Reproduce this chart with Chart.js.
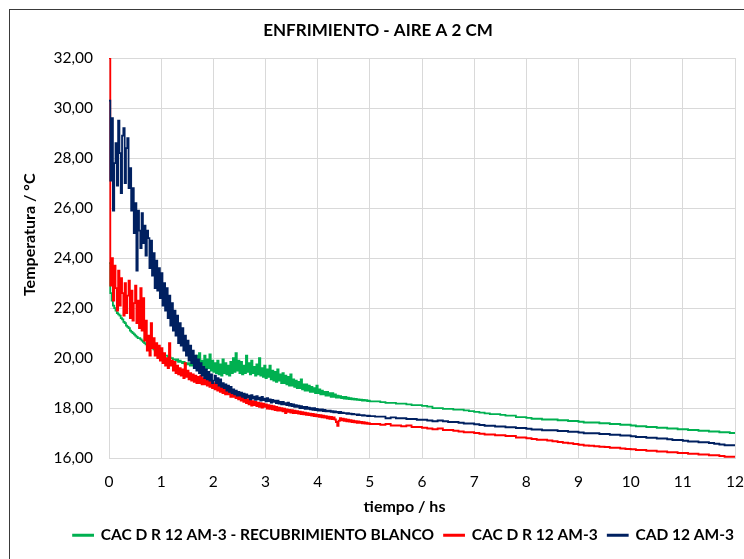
<!DOCTYPE html>
<html>
<head>
<meta charset="utf-8">
<script src="https://cdn.jsdelivr.net/npm/chart.js@4.4.0/dist/chart.umd.min.js"></script>
<style>
    html, body { margin: 0; padding: 0; background: #fff; overflow: hidden; }
    #wrap { position: relative; width: 744px; height: 559px; }
    #marco { position: absolute; left: 9px; top: 9px; width: 800px; height: 600px;
             border-left: 1px solid #3a3a3a; border-top: 1px solid #3a3a3a; }
    canvas { position: absolute; left: 0; top: 0; }
</style>
</head>
<body>
<div id="wrap">
    <div id="marco"></div>
    <canvas id="grafico" width="744" height="559"></canvas>
</div>
<script>
// Muestreo: cada 0.025 h hasta 5 h, luego cada 0.1 h hasta 12 h
const pasoFino = 0.025, muestrasFinas = 201;
const pasoGrueso = 0.1, inicioGrueso = 5.1, muestrasGruesas = 70;

// CAC D R 12 AM-3 - RECUBRIMIENTO BLANCO
const verde = [
    23.8, 22.6, 22.3, 22.1, 22.0, 21.9, 21.8, 21.75, 21.7, 21.6,
    21.55, 21.45, 21.4, 21.3, 21.25, 21.2, 21.1, 21.05, 21.0, 20.95,
    20.9, 20.85, 20.8, 20.8, 20.75, 20.7, 20.65, 20.6, 20.55, 20.5,
    20.5, 20.45, 20.4, 20.4, 20.35, 20.3, 20.3, 20.25, 20.25, 20.2,
    20.2, 20.15, 20.15, 20.1, 20.1, 20.05, 20.05, 20.0, 20.0, 19.95,
    19.95, 19.9, 19.95, 19.85, 19.9, 19.85, 19.8, 19.85, 19.75, 19.8,
    19.75, 19.8, 19.7, 19.75, 19.7, 19.8, 19.65, 20.1, 19.7, 20.2,
    19.65, 19.9, 19.6, 20.1, 19.55, 19.95, 19.6, 20.15, 19.5, 19.9,
    19.45, 19.8, 19.4, 19.9, 19.35, 19.75, 19.3, 19.95, 19.4, 19.8,
    19.35, 19.7, 19.3, 19.85, 19.4, 20.0, 19.45, 20.2, 19.5, 19.9, 19.4,
    19.85, 19.35, 19.7, 19.4, 20.1, 19.45, 19.8, 19.35, 19.9, 19.4,
    19.65, 19.3, 19.75, 19.35, 20.0, 19.3, 19.6, 19.25, 19.7, 19.2,
    19.55, 19.25, 19.7, 19.15, 19.5, 19.1, 19.45, 19.05, 19.55, 19.1,
    19.35, 19.0, 19.4, 19.0, 19.3, 18.95, 19.25, 18.9, 19.35, 18.9,
    19.15, 18.85, 19.1, 18.8, 19.05, 18.8, 19.15, 18.75, 18.95, 18.7,
    18.95, 18.7, 18.9, 18.65, 18.85, 18.65, 18.8, 18.6, 18.9, 18.6,
    18.75, 18.55, 18.7, 18.55, 18.65, 18.5, 18.65, 18.5, 18.6, 18.45,
    18.6, 18.45, 18.55, 18.42, 18.5, 18.42, 18.48, 18.4, 18.45, 18.38,
    18.45, 18.37, 18.42, 18.36, 18.4, 18.35, 18.38, 18.34, 18.37, 18.33,
    18.35, 18.32, 18.34, 18.3, 18.33, 18.3, 18.32, 18.28, 18.3, 18.27,
    // desde 5.1 h
    18.27, 18.24, 18.21, 18.21, 18.18, 18.18, 18.15, 18.12, 18.12, 18.09,
    18.06, 18.0, 18.0, 17.97, 17.97, 17.94, 17.94, 17.91, 17.88, 17.85,
    17.82, 17.79, 17.76, 17.76, 17.73, 17.7, 17.7, 17.64, 17.64, 17.61,
    17.58, 17.58, 17.55, 17.55, 17.55, 17.52, 17.52, 17.49, 17.49, 17.46,
    17.43, 17.43, 17.43, 17.4, 17.4, 17.37, 17.37, 17.34, 17.34, 17.31,
    17.28, 17.28, 17.25, 17.25, 17.22, 17.22, 17.19, 17.19, 17.16, 17.16,
    17.13, 17.13, 17.1, 17.1, 17.07, 17.07, 17.04, 17.04, 17.01, 17.01
];

// CAC D R 12 AM-3
const rojo = [
    32.0, 22.9, 24.0, 22.3, 23.7, 22.8, 21.9, 23.5, 22.1, 23.2,
    22.6, 21.7, 23.0, 21.8, 22.5, 23.1, 21.6, 22.7, 21.5, 22.2,
    22.9, 21.4, 22.3, 21.2, 22.8, 21.1, 22.4, 20.7, 21.5, 20.3,
    20.9, 20.1, 21.4, 20.4, 20.8, 20.1, 20.6, 20.0, 20.5, 19.9,
    20.4, 19.8, 20.2, 19.7, 20.0, 19.6, 20.6, 19.7, 19.9, 19.5,
    19.85, 19.4, 19.7, 19.35, 19.6, 19.3, 19.55, 19.2, 19.8, 19.25,
    19.5, 19.15, 19.4, 19.1, 19.35, 19.05, 19.3, 19.0, 19.25, 19.0,
    19.3, 18.95, 19.2, 18.95, 19.15, 18.9, 19.1, 18.85, 19.05, 18.8,
    19.0, 18.75, 18.95, 18.7, 18.9, 18.65, 18.85, 18.6, 18.8, 18.55,
    18.75, 18.55, 18.7, 18.45, 18.65, 18.45, 18.6, 18.4, 18.55, 18.35, 18.5,
    18.3, 18.45, 18.25, 18.4, 18.2, 18.35, 18.15, 18.3, 18.1, 18.28,
    18.12, 18.25, 18.08, 18.22, 18.05, 18.2, 18.02, 18.18, 18.05, 18.15,
    17.98, 18.12, 17.97, 18.1, 17.95, 18.08, 17.92, 18.05, 17.9, 18.02,
    17.9, 18.0, 17.87, 17.98, 17.8, 17.95, 17.85, 17.93, 17.82, 17.92,
    17.8, 17.9, 17.8, 17.88, 17.78, 17.86, 17.76, 17.84, 17.75, 17.82,
    17.73, 17.8, 17.72, 17.78, 17.7, 17.77, 17.68, 17.75, 17.67, 17.73,
    17.65, 17.72, 17.63, 17.7, 17.62, 17.68, 17.6, 17.66, 17.58, 17.65,
    17.57, 17.63, 17.55, 17.45, 17.3, 17.5, 17.6, 17.52, 17.58, 17.5,
    17.56, 17.48, 17.54, 17.47, 17.52, 17.45, 17.5, 17.44, 17.48, 17.42,
    17.47, 17.42, 17.45, 17.4, 17.44, 17.39, 17.42, 17.38, 17.4, 17.37,
    // desde 5.1 h
    17.37, 17.34, 17.37, 17.31, 17.31, 17.28, 17.31, 17.25, 17.25, 17.22,
    17.19, 17.16, 17.19, 17.13, 17.13, 17.1, 17.07, 17.04, 17.04, 17.01,
    16.98, 16.95, 16.95, 16.92, 16.92, 16.89, 16.89, 16.83, 16.83, 16.8,
    16.77, 16.74, 16.74, 16.71, 16.68, 16.65, 16.62, 16.6, 16.57, 16.54,
    16.51, 16.5, 16.48, 16.46, 16.45, 16.42, 16.42, 16.39, 16.37, 16.36,
    16.33, 16.33, 16.3, 16.3, 16.27, 16.27, 16.24, 16.24, 16.21, 16.21,
    16.18, 16.18, 16.15, 16.15, 16.12, 16.12, 16.09, 16.06, 16.06, 16.03
];

// CAD 12 AM-3
const azul = [
    30.3, 27.1, 29.6, 25.9, 27.8, 28.6, 26.9, 29.5, 28.2, 26.6,
    28.9, 29.2, 27.0, 28.4, 28.8, 26.8, 27.6, 25.9, 26.8, 25.0,
    26.2, 23.5, 25.9, 25.1, 24.4, 25.8, 24.6, 25.3, 24.1, 25.1,
    24.8, 23.6, 24.7, 23.3, 24.2, 22.8, 23.9, 22.7, 23.6, 22.4,
    23.4, 22.1, 23.0, 21.9, 22.8, 21.6, 22.5, 21.3, 22.2, 21.1,
    21.9, 20.9, 21.7, 20.6, 21.4, 20.5, 21.2, 20.3, 20.9, 20.1,
    20.7, 19.9, 20.5, 19.8, 20.3, 19.6, 20.1, 19.5, 19.95, 19.4,
    19.8, 19.3, 19.65, 19.2, 19.55, 19.15, 19.45, 19.1, 19.35, 19.0,
    19.1, 19.3, 19.0, 19.2, 18.9, 19.15, 18.85, 19.0, 18.8, 18.95,
    18.7, 18.9, 18.65, 18.85, 18.6, 18.75, 18.55, 18.7, 18.5, 18.65, 18.5,
    18.62, 18.45, 18.58, 18.4, 18.55, 18.42, 18.5, 18.35, 18.52, 18.38,
    18.46, 18.33, 18.48, 18.35, 18.42, 18.3, 18.45, 18.32, 18.38, 18.27,
    18.4, 18.28, 18.35, 18.22, 18.33, 18.25, 18.3, 18.2, 18.3, 18.18,
    18.25, 18.15, 18.25, 18.15, 18.2, 18.12, 18.22, 18.1, 18.17, 18.08,
    18.15, 18.05, 18.12, 18.05, 18.1, 18.0, 18.08, 18.0, 18.05, 17.97,
    18.05, 17.97, 18.02, 17.95, 18.0, 17.93, 18.0, 17.92, 17.97, 17.9,
    17.95, 17.9, 17.95, 17.88, 17.93, 17.87, 17.9, 17.87, 17.9, 17.85,
    17.88, 17.83, 17.87, 17.83, 17.85, 17.8, 17.85, 17.8, 17.82, 17.8,
    17.8, 17.77, 17.8, 17.77, 17.78, 17.75, 17.77, 17.75, 17.75, 17.72,
    17.75, 17.72, 17.72, 17.7, 17.72, 17.7, 17.7, 17.68, 17.7, 17.68,
    // desde 5.1 h
    17.66, 17.66, 17.6, 17.63, 17.6, 17.6, 17.57, 17.57, 17.54, 17.54,
    17.51, 17.48, 17.51, 17.48, 17.45, 17.45, 17.42, 17.39, 17.39, 17.36,
    17.33, 17.3, 17.3, 17.27, 17.27, 17.24, 17.24, 17.21, 17.21, 17.18,
    17.15, 17.15, 17.12, 17.12, 17.12, 17.09, 17.09, 17.06, 17.06, 17.03,
    17.0, 17.0, 17.0, 16.97, 16.97, 16.94, 16.94, 16.91, 16.91, 16.88,
    16.85, 16.85, 16.82, 16.82, 16.79, 16.79, 16.76, 16.73, 16.73, 16.7,
    16.67, 16.67, 16.64, 16.64, 16.61, 16.58, 16.55, 16.52, 16.52, 16.49
];

const nombres = ['CAC D R 12 AM-3 - RECUBRIMIENTO BLANCO', 'CAC D R 12 AM-3', 'CAD 12 AM-3'];
const colores = ['#00b050', '#ff0000', '#002060'];

// tiempos de muestreo (h)
const tiempo = [];
for (let i = 0; i < muestrasFinas; i++) tiempo.push(+(i * pasoFino).toFixed(3));
for (let i = 0; i < muestrasGruesas; i++) tiempo.push(+(inicioGrueso + i * pasoGrueso).toFixed(3));

function puntos(serie) {
    return serie.map((v, i) => ({ x: tiempo[i], y: v }));
}

const fuente = "Lato, 'Open Sans', sans-serif";
const gris = '#d9d9d9';

new Chart(document.getElementById('grafico'), {
    type: 'line',
    data: {
        datasets: [verde, rojo, azul].map((serie, k) => ({
            label: nombres[k],
            data: puntos(serie),
            borderColor: colores[k],
            backgroundColor: colores[k],
            borderWidth: 1.8,
            pointRadius: 0,
            stepped: true,
            order: 3 - k
        }))
    },
    options: {
        responsive: false,
        animation: false,
        layout: { padding: { left: 12, right: 0, top: 0, bottom: 6 } },
        plugins: {
            title: {
                display: true,
                text: 'ENFRIMIENTO - AIRE A 2 CM',
                color: '#000',
                font: { family: fuente, size: 17, weight: 'bold' },
                padding: { top: 20, bottom: 17.6 }
            },
            legend: {
                position: 'bottom',
                align: 'end',
                labels: {
                    color: '#000',
                    font: { family: fuente, size: 15.5, weight: 'bold' },
                    boxWidth: 20,
                    boxHeight: 1,
                    padding: 10,
                    sort: (a, b) => a.datasetIndex - b.datasetIndex
                }
            },
            tooltip: { enabled: false }
        },
        scales: {
            x: {
                type: 'linear',
                min: 0,
                max: 12,
                afterFit: s => { s.height = 59.25; },
                // separación de las etiquetas con marcas invisibles (el padding de ticks estrecharía el área)
                ticks: { stepSize: 1, color: '#000', padding: 0,
                         font: { family: fuente, size: 15.5 } },
                grid: { color: gris, drawTicks: true, tickLength: 14, tickColor: 'rgba(0,0,0,0)' },
                border: { color: gris },
                title: { display: true, text: 'tiempo / hs         ', color: '#000',
                         font: { family: fuente, size: 16, weight: 'bold' },
                         padding: { top: 0, bottom: 0.6 } }
            },
            y: {
                min: 16,
                max: 32,
                afterFit: s => { s.width = 97; },
                ticks: { stepSize: 2, color: '#000', padding: 16,
                         font: { family: fuente, size: 15.5 },
                         callback: v => v.toFixed(2).replace('.', ',') },
                grid: { color: gris, drawTicks: false },
                border: { color: gris },
                title: { display: true, text: '            Temperatura / °C', color: '#000',
                         font: { family: fuente, size: 16, weight: 'bold' },
                         padding: { top: 8, bottom: 0 } }
            },
            // eje vacío a la derecha: solo reserva el margen del área de trazado
            margen: {
                position: 'right',
                afterFit: s => { s.width = 9; },
                ticks: { display: false },
                grid: { display: false, drawTicks: false },
                border: { display: false }
            }
        }
    }
});
</script>
</body>
</html>
